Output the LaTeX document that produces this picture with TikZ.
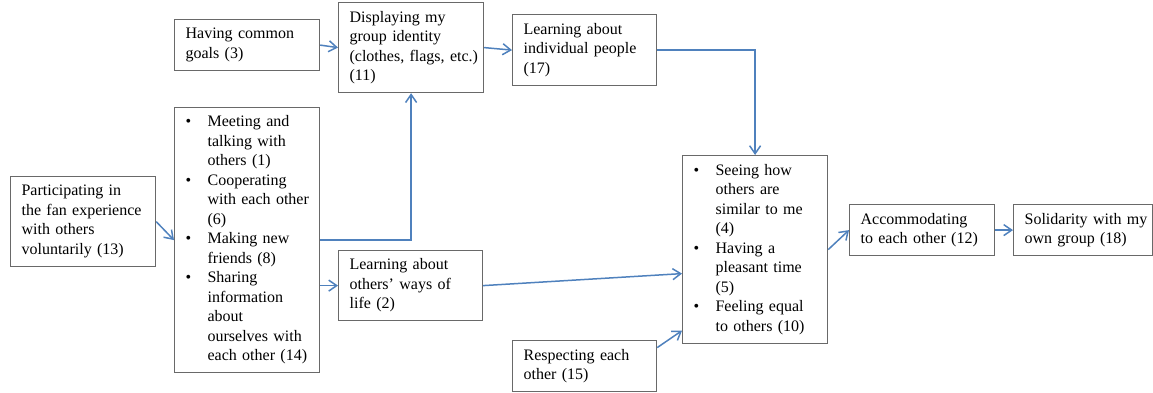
\documentclass[tikz,border=0pt]{standalone}
\usepackage{fontspec}
\setmainfont{Liberation Serif}
\usetikzlibrary{arrows.meta}
\definecolor{linkblue}{RGB}{79,129,189}
\definecolor{boxline}{RGB}{105,105,105}
% bullet and hanging indent for list lines
\newcommand\blt{\makebox[22pt][l]{•}}
\newcommand\bind{\hspace*{22pt}}
\begin{document}
\begin{tikzpicture}[x=1pt,y=-1pt,
  box/.style 2 args={draw=boxline, line width=1.2pt, fill=white, anchor=north west,
    inner xsep=8pt, inner ysep=6pt, minimum width=#1, text width=#1-16pt,
    minimum height=#2, align=left, font=\fontsize{16}{19.5}\selectfont,
    execute at begin node={\leftskip=3pt\relax}},
  link/.style={draw=linkblue, line width=1.5pt, -{Straight Barb[length=8pt,width=11pt]}}]
\useasboundingbox (0,0) rectangle (1153,392);

% boxes
\node[box={145pt}{90pt}] (part) at (10,176)
  {Participating in\\the fan experience\\with others\\voluntarily (13)};
\node[box={145pt}{51pt}] (goals) at (174,19) {Having common\\goals (3)};
\node[box={145pt}{265pt}] (meet) at (174,107)
  {\blt Meeting and\\\bind talking with\\\bind others (1)\\
   \blt Cooperating\\\bind with each other\\\bind (6)\\
   \blt Making new\\\bind friends (8)\\
   \blt Sharing\\\bind information\\\bind about\\\bind ourselves with\\\bind each other (14)};
\node[box={145pt}{90pt}] (ident) at (338,2)
  {Displaying my\\group identity\\(clothes,~flags,~etc.)\\(11)};
\node[box={144pt}{71pt}] (indiv) at (512,14)
  {Learning about\\individual people\\(17)};
\node[box={144pt}{70pt}] (ways) at (338,250)
  {Learning about\\others’ ways of\\life (2)};
\node[box={145pt}{188pt}] (similar) at (682,155)
  {\blt Seeing how\\\bind others are\\\bind similar to me\\\bind (4)\\
   \blt Having a\\\bind pleasant time\\\bind (5)\\
   \blt Feeling equal\\\bind to others (10)};
\node[box={144pt}{51pt}] (respect) at (512,340) {Respecting each\\other (15)};
\node[box={145pt}{51pt}] (accom) at (849,204) {Accommodating\\to each other (12)};
\node[box={139pt}{51pt}] (solid) at (1013,204) {Solidarity~with~my\\own group (18)};

% connectors
\draw[link] (part.east) -- (meet.west);
\draw[link] (goals.east) -- (ident.west);
\draw[link] (meet.east) -| (ident.south);
\draw[link] (meet.east |- ways.west) -- (ways.west);
\draw[link] (ident.east) -- (indiv.west);
\draw[link] (indiv.east) -| (similar.north);
\draw[link] (ways.east) -- ([yshift=-24pt]similar.west);
\draw[link] ([yshift=18.5pt]respect.east) -- ([yshift=-81pt]similar.west);
\draw[link] (similar.east) -- (accom.west);
\draw[link] (accom.east) -- (solid.west);
\end{tikzpicture}
\end{document}
